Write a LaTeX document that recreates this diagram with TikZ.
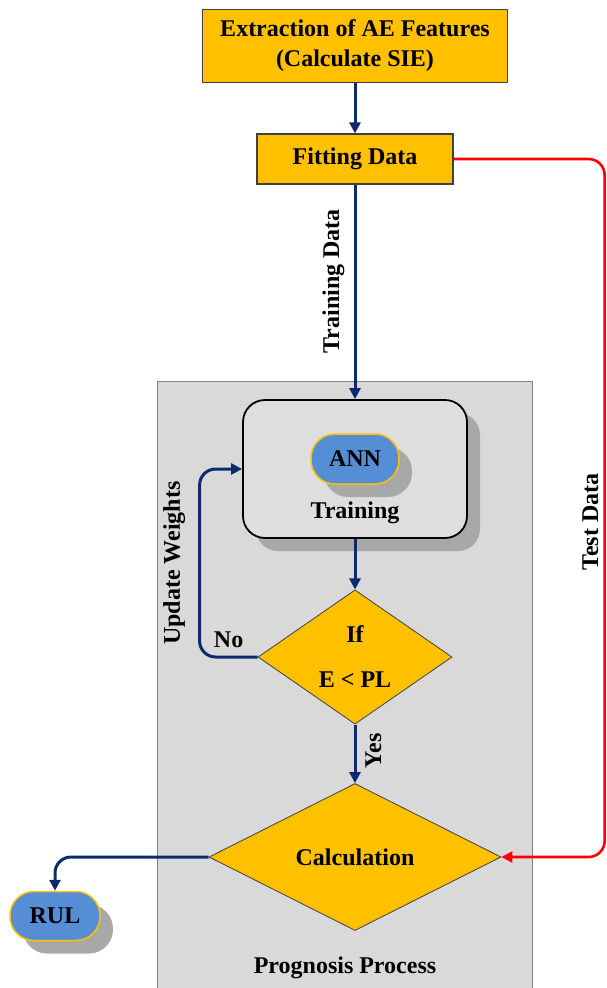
\documentclass[tikz,border=0pt]{standalone}
\usepackage{fontspec}
\setmainfont{Liberation Serif}
\usetikzlibrary{positioning}
\usetikzlibrary{calc}
\usetikzlibrary{shapes.geometric}
\usetikzlibrary{shadows}
\usetikzlibrary{arrows.meta}
\definecolor{box colour}{HTML}{FFC000}
\definecolor{flow colour}{HTML}{0E2A6E}
\definecolor{test colour}{HTML}{FF0000}
\definecolor{panel colour}{HTML}{D9D9D9}
\definecolor{stage colour}{HTML}{DEDEDE}
\definecolor{pill colour}{HTML}{558ED5}
\definecolor{shade colour}{HTML}{A8A8A8}
\definecolor{edge colour}{HTML}{404040}
\tikzset{
    % Filled triangle tips on every connector
    >={Triangle[length=11pt, width=11pt]},
%
    % Bold serif text everywhere
    every node/.style={align=center, font=\fontsize{24}{30}\selectfont\bfseries},
    % Grey offset shadow used by the rounded shapes
    offset shadow/.style={drop shadow={shadow xshift=13pt, shadow yshift=-13pt,
        fill=shade colour, opacity=1}},
    % Lines
    flow/.style={draw=flow colour, line width=3pt, ->, rounded corners=16pt},
    test/.style={draw=test colour, line width=2.6pt, ->, rounded corners=16pt},
    % Rotated label standing beside a vertical line
    side label/.style={rotate=90, inner xsep=0pt, inner ysep=#1},
}

\begin{document}
\begin{tikzpicture}[
    x=1pt, y=-1pt,
    stepbox/.style={draw=edge colour, fill=box colour, line width=1.2pt, inner sep=0pt},
    decision/.style={diamond, draw=edge colour, fill=box colour, line width=0.8pt,
        inner sep=0pt},
    pill/.style={draw=box colour, fill=pill colour, line width=1.5pt,
        rounded corners=24pt, inner sep=0pt, offset shadow},
    stage/.style={draw=black, fill=stage colour, line width=1.8pt,
        rounded corners=22pt, offset shadow},
    panel/.style={draw=gray, fill=panel colour, line width=0.8pt},
]
\useasboundingbox (0,0) rectangle (606,988);

% grey panel of the prognosis part
\node [panel, minimum width=375pt, minimum height=612pt] (process) at (344.5,687) {};

\path (355,46)
    node [stepbox, minimum width=305pt, minimum height=73pt] (extract)
        {Extraction of AE Features\\(Calculate SIE)}
    ++(0,113) node [stepbox, minimum width=196pt, minimum height=50pt] (fitting)
        {Fitting Data}
    ++(0,310) node [stage, minimum width=224pt, minimum height=138pt] (training) {}
    ++(0,-10) node [pill, minimum width=88pt, minimum height=50pt] (ann) {ANN}
    ++(0,54) node (trainlbl) {Training}
    ++(0,144) node [decision, minimum width=194pt, minimum height=114pt] (test)
        {If\\[15pt]E < PL}
    ++(0,200) node [decision, minimum width=292pt, minimum height=147pt] (calc)
        {Calculation}
    ++(-10,111) node (title) {Prognosis Process};

\node [pill, minimum width=90pt, minimum height=49pt] (rul) at (55,916) {RUL};

\draw [flow] (extract) -- (fitting);
\draw [flow] (fitting) -- (training)
    node [pos=0.45, side label=9pt, anchor=south] {Training Data};
\draw [flow] (training) -- (test);
\draw [flow] (test) -- (calc)
    node [pos=0.45, side label=9pt, anchor=north] {Yes};

\draw [flow] (test.west) -- ++(-58,0) node [midway, above=4pt] {No}
    |- (training.west)
    node [pos=0.25, side label=13pt, anchor=south] {Update Weights};

\draw [test] (fitting.east) -- ++(151,0) |- (calc.east)
    node [pos=0.26, side label=5pt, anchor=south] {Test Data};

\draw [flow] (calc.west) -| (rul.north);

\end{tikzpicture}
\end{document}
